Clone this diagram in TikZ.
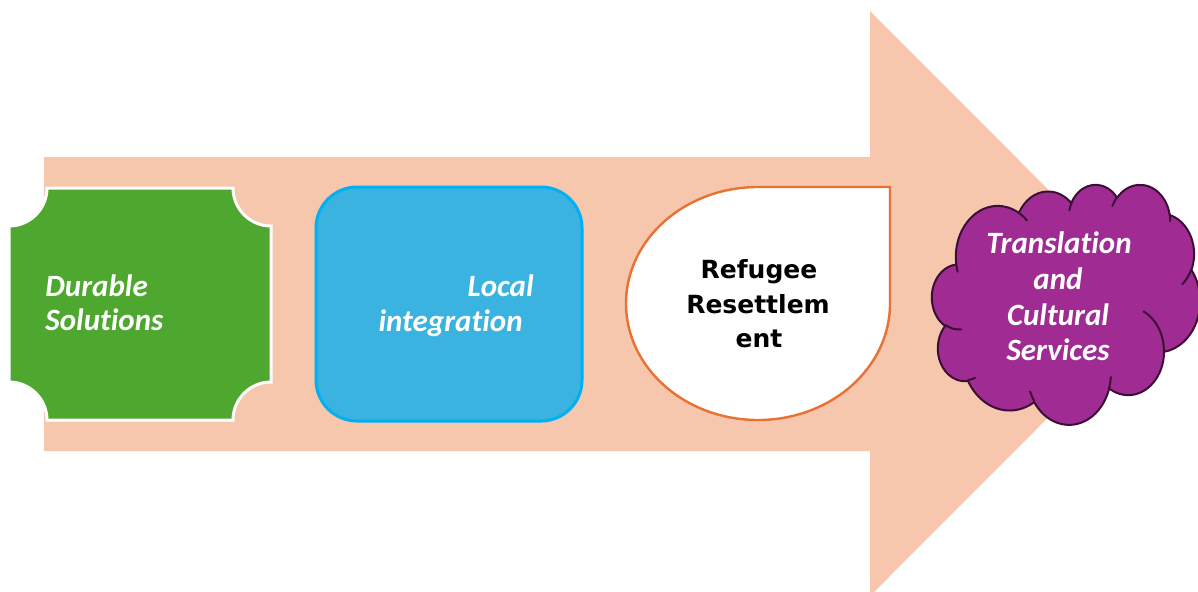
\documentclass[tikz,border=0pt]{standalone}
\usepackage{fontspec}
\setmainfont{Carlito}[Ligatures=NoCommon]
\newfontfamily\refont{DejaVu Sans}
\definecolor{arrowfill}{HTML}{F6C6AD}
\definecolor{greenfill}{HTML}{4EA72E}
\definecolor{bluefill}{HTML}{3AB3E1}
\definecolor{blueline}{HTML}{00B0F0}
\definecolor{orangeline}{HTML}{E97132}
\definecolor{purplefill}{HTML}{A02B93}
\definecolor{purpleline}{HTML}{3B0F35}
\begin{document}
\begin{tikzpicture}[x=0.5pt,y=-0.5pt,
  whitelabel/.style={text=white,font=\fontsize{15.5}{17}\selectfont\bfseries\itshape,inner sep=0pt},
  blacklabel/.style={text=black,font=\refont\fontsize{12.5}{17}\selectfont\bfseries,inner sep=0pt},
  cloudpart/.style={line width=1pt,draw=purpleline,line join=round}]
\useasboundingbox (0,0) rectangle (1198,591);
% big arrow
\fill[arrowfill] (44,157) -- (870,157) -- (870,11) -- (1162,303.5) -- (870,596) -- (870,451) -- (44,451) -- cycle;
% green plaque
\filldraw[fill=greenfill,draw=white,line width=1.5pt]
  (47,188) -- (233,188) arc[start angle=180,end angle=90,radius=38]
  -- (271,382) arc[start angle=270,end angle=180,radius=38]
  -- (47,420) arc[start angle=0,end angle=-90,radius=38]
  -- (9,226) arc[start angle=90,end angle=0,radius=38] -- cycle;
% blue rounded box
\filldraw[fill=bluefill,draw=blueline,line width=1.5pt,rounded corners=20.5pt]
  (316,187) rectangle (582,421);
% teardrop
\filldraw[fill=white,draw=orangeline,line width=1.2pt]
  (626,303.5) arc[start angle=180,end angle=270,x radius=132,y radius=116.5]
  -- (890,187) -- (890,303.5) arc[start angle=0,end angle=180,x radius=132,y radius=116.5] -- cycle;
% cloud (Office preset geometry)
\begin{scope}[shift={(466pt,-92pt)},x=3.1019pt,y=-2.7778pt]
\filldraw[fill=purplefill,cloudpart] (3.9,14.37)
  \foreach \w/\h/\s/\d [evaluate=\s as \ts using {atan2(\w*sin(\s),\h*cos(\s))},
     evaluate=\s as \te using {atan2(\w*sin(\s+\d),\h*cos(\s+\d))}] in
    {6.753/9.19/-190.4875/123.7805, 5.333/7.267/-144.1024/89.9452,
     4.365/5.945/-145.8079/99.7230, 4.857/6.595/-130.9861/117.2417,
     5.333/7.273/-78.7089/109.0269, 6.775/9.22/-46.2673/130.2690,
     5.785/7.867/0.6250/114.0333, 6.752/9.215/22.4516/115.1726,
     7.72/10.543/66.2426/75.7110, 4.36/5.918/-274.9421/146.7356,
     4.345/5.945/-246.8285/152.5189}
  { arc[start angle=\ts,end angle={\te-360*round((\te-\ts-\d)/360)},x radius=\w,y radius=\h] } -- cycle;
\foreach \px/\py/\w/\h/\s/\d in {4.693/26.177/4.345/5.945/86.7420/26.4295,
     6.928/34.899/4.36/5.918/73.6105/11.4475,
     16.478/39.09/6.752/9.215/137.6242/14.0811,
     28.827/34.751/6.752/9.215/6.4533/15.9984,
     34.129/22.954/5.785/7.867/-70.2924/70.9174,
     41.798/15.354/5.333/7.273/30.3180/27.7515,
     38.324/5.426/4.857/6.595/-13.7443/14.8589,
     29.078/3.952/4.857/6.595/-149.1815/18.1954,
     22.141/4.72/4.365/5.945/-163.4943/19.0014,
     14/5.192/6.753/9.19/-66.7070/12.3194,
     4.127/15.789/6.753/9.19/157.6544/11.8582}
  { \pgfmathsetmacro\ts{atan2(\w*sin(\s),\h*cos(\s))}
    \pgfmathsetmacro\te{atan2(\w*sin(\s+\d),\h*cos(\s+\d))}
    \pgfmathsetmacro\tee{\te-360*round((\te-\ts-\d)/360)}
    \draw[cloudpart,line cap=round] (\px,\py) arc[start angle=\ts,end angle=\tee,x radius=\w,y radius=\h]; }
\end{scope}
% labels
\node[whitelabel,anchor=base west] (d1) at (45,296) {Durable};
\node[whitelabel,anchor=base west] (d2) at (45,330) {Solutions};
\node[whitelabel,anchor=base east] (l1) at (534,296) {Local};
\node[whitelabel,anchor=base east] (l2) at (523,331) {integration};
\node[blacklabel,anchor=base] (r1) at (759,278) {Refugee};
\node[blacklabel,anchor=base] (r2) at (758,313) {Resettlem};
\node[blacklabel,anchor=base] (r3) at (759,347) {ent};
\node[whitelabel,anchor=base] (t1) at (1059,253) {Translation};
\node[whitelabel,anchor=base] (t2) at (1058,289) {and};
\node[whitelabel,anchor=base] (t3) at (1058,325) {Cultural};
\node[whitelabel,anchor=base] (t4) at (1058,360) {Services};
\end{tikzpicture}
\end{document}
